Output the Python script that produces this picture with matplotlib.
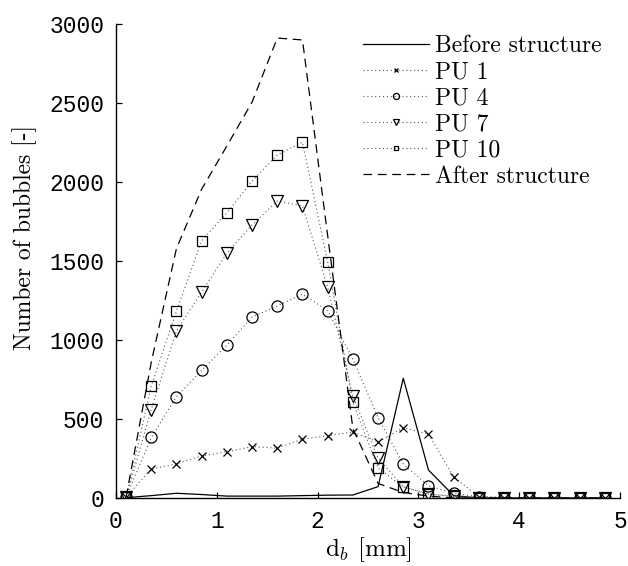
import numpy as np
import matplotlib.pyplot as plt

plt.rcParams['mathtext.fontset'] = 'cm'
plt.rcParams['axes.unicode_minus'] = False

# bubble diameter classes [mm]
d_b = [0.1, 0.35, 0.6, 0.85, 1.1, 1.35, 1.6, 1.85, 2.1, 2.35,
       2.6, 2.85, 3.1, 3.35, 3.6, 3.85, 4.1, 4.35, 4.6, 4.85]

# number of bubbles per class
before = [2, 15, 30, 22, 12, 12, 12, 15, 18, 19,
          72, 758, 177, 15, 0, 0, 0, 0, 0, 0]
pu1 = [5, 183, 217, 266, 293, 325, 316, 373, 394, 418,
       354, 445, 405, 133, 8, 3, 2, 1, 1, 1]
pu4 = [5, 383, 641, 808, 968, 1145, 1215, 1291, 1185, 879,
       508, 215, 78, 30, 8, 3, 2, 1, 1, 1]
pu7 = [5, 560, 1058, 1303, 1550, 1728, 1880, 1848, 1335, 644,
       252, 72, 25, 10, 3, 2, 1, 1, 1, 1]
pu10 = [5, 709, 1184, 1628, 1805, 2006, 2171, 2252, 1494, 606,
        189, 70, 25, 10, 3, 2, 1, 1, 1, 1]
after = [5, 860, 1580, 1955, 2228, 2506, 2911, 2899, 1660, 440,
         92, 35, 12, 0, 0, 0, 0, 0, 0, 0]

fig = plt.figure(figsize=(6.28, 5.66), dpi=100)
ax = fig.add_axes([116/628, 68/566, 504/628, 474/566])

dots = (0, (1, 2.5))
ax.plot(d_b, before, '-', color='k', lw=0.9, label='Before structure')
ax.plot(d_b, pu1, linestyle=dots, color='0.35', lw=0.8, marker='x', ms=6,
        mec='k', mew=0.9, label='PU 1')
ax.plot(d_b, pu4, linestyle=dots, color='0.35', lw=0.8, marker='o', ms=8,
        mfc='none', mec='k', mew=0.9, label='PU 4')
ax.plot(d_b, pu7, linestyle=dots, color='0.35', lw=0.8, marker='v', ms=8.5,
        mfc='none', mec='k', mew=0.9, label='PU 7')
ax.plot(d_b, pu10, linestyle=dots, color='0.35', lw=0.8, marker='s', ms=6.5,
        mfc='none', mec='k', mew=0.9, label='PU 10')
ax.plot(d_b, after, linestyle=(0, (7, 4.5)), color='k', lw=0.9,
        label='After structure')

ax.set_xlim(0, 5)
ax.set_ylim(0, 3000)
ax.set_xticks([0, 1, 2, 3, 4, 5])
ax.set_yticks([0, 500, 1000, 1500, 2000, 2500, 3000])

for side in ['top', 'right']:
    ax.spines[side].set_visible(False)
for side in ['left', 'bottom']:
    ax.spines[side].set_linewidth(1.0)

ax.tick_params(direction='in', length=4, width=0.9, pad=8.5)
for lab in ax.get_xticklabels() + ax.get_yticklabels():
    lab.set_fontfamily('Liberation Mono')
    lab.set_fontsize(16.5)

ax.set_xlabel(r'd$_b$ [mm]', fontfamily='cmr10', fontsize=18)
ax.set_ylabel('Number of bubbles [-]', fontfamily='cmr10', fontsize=17)
ax.xaxis.set_label_coords(0.5, -0.078)
ax.yaxis.set_label_coords(-0.157, 0.55)

ax.legend(loc='upper left', bbox_to_anchor=(0.49, 0.977), frameon=False,
          prop={'family': 'cmr10', 'size': 17}, borderaxespad=0, borderpad=0,
          handlelength=2.8, handletextpad=0.25, labelspacing=0.17,
          markerscale=0.55, numpoints=1)

fig.savefig('out.png', dpi=100)
